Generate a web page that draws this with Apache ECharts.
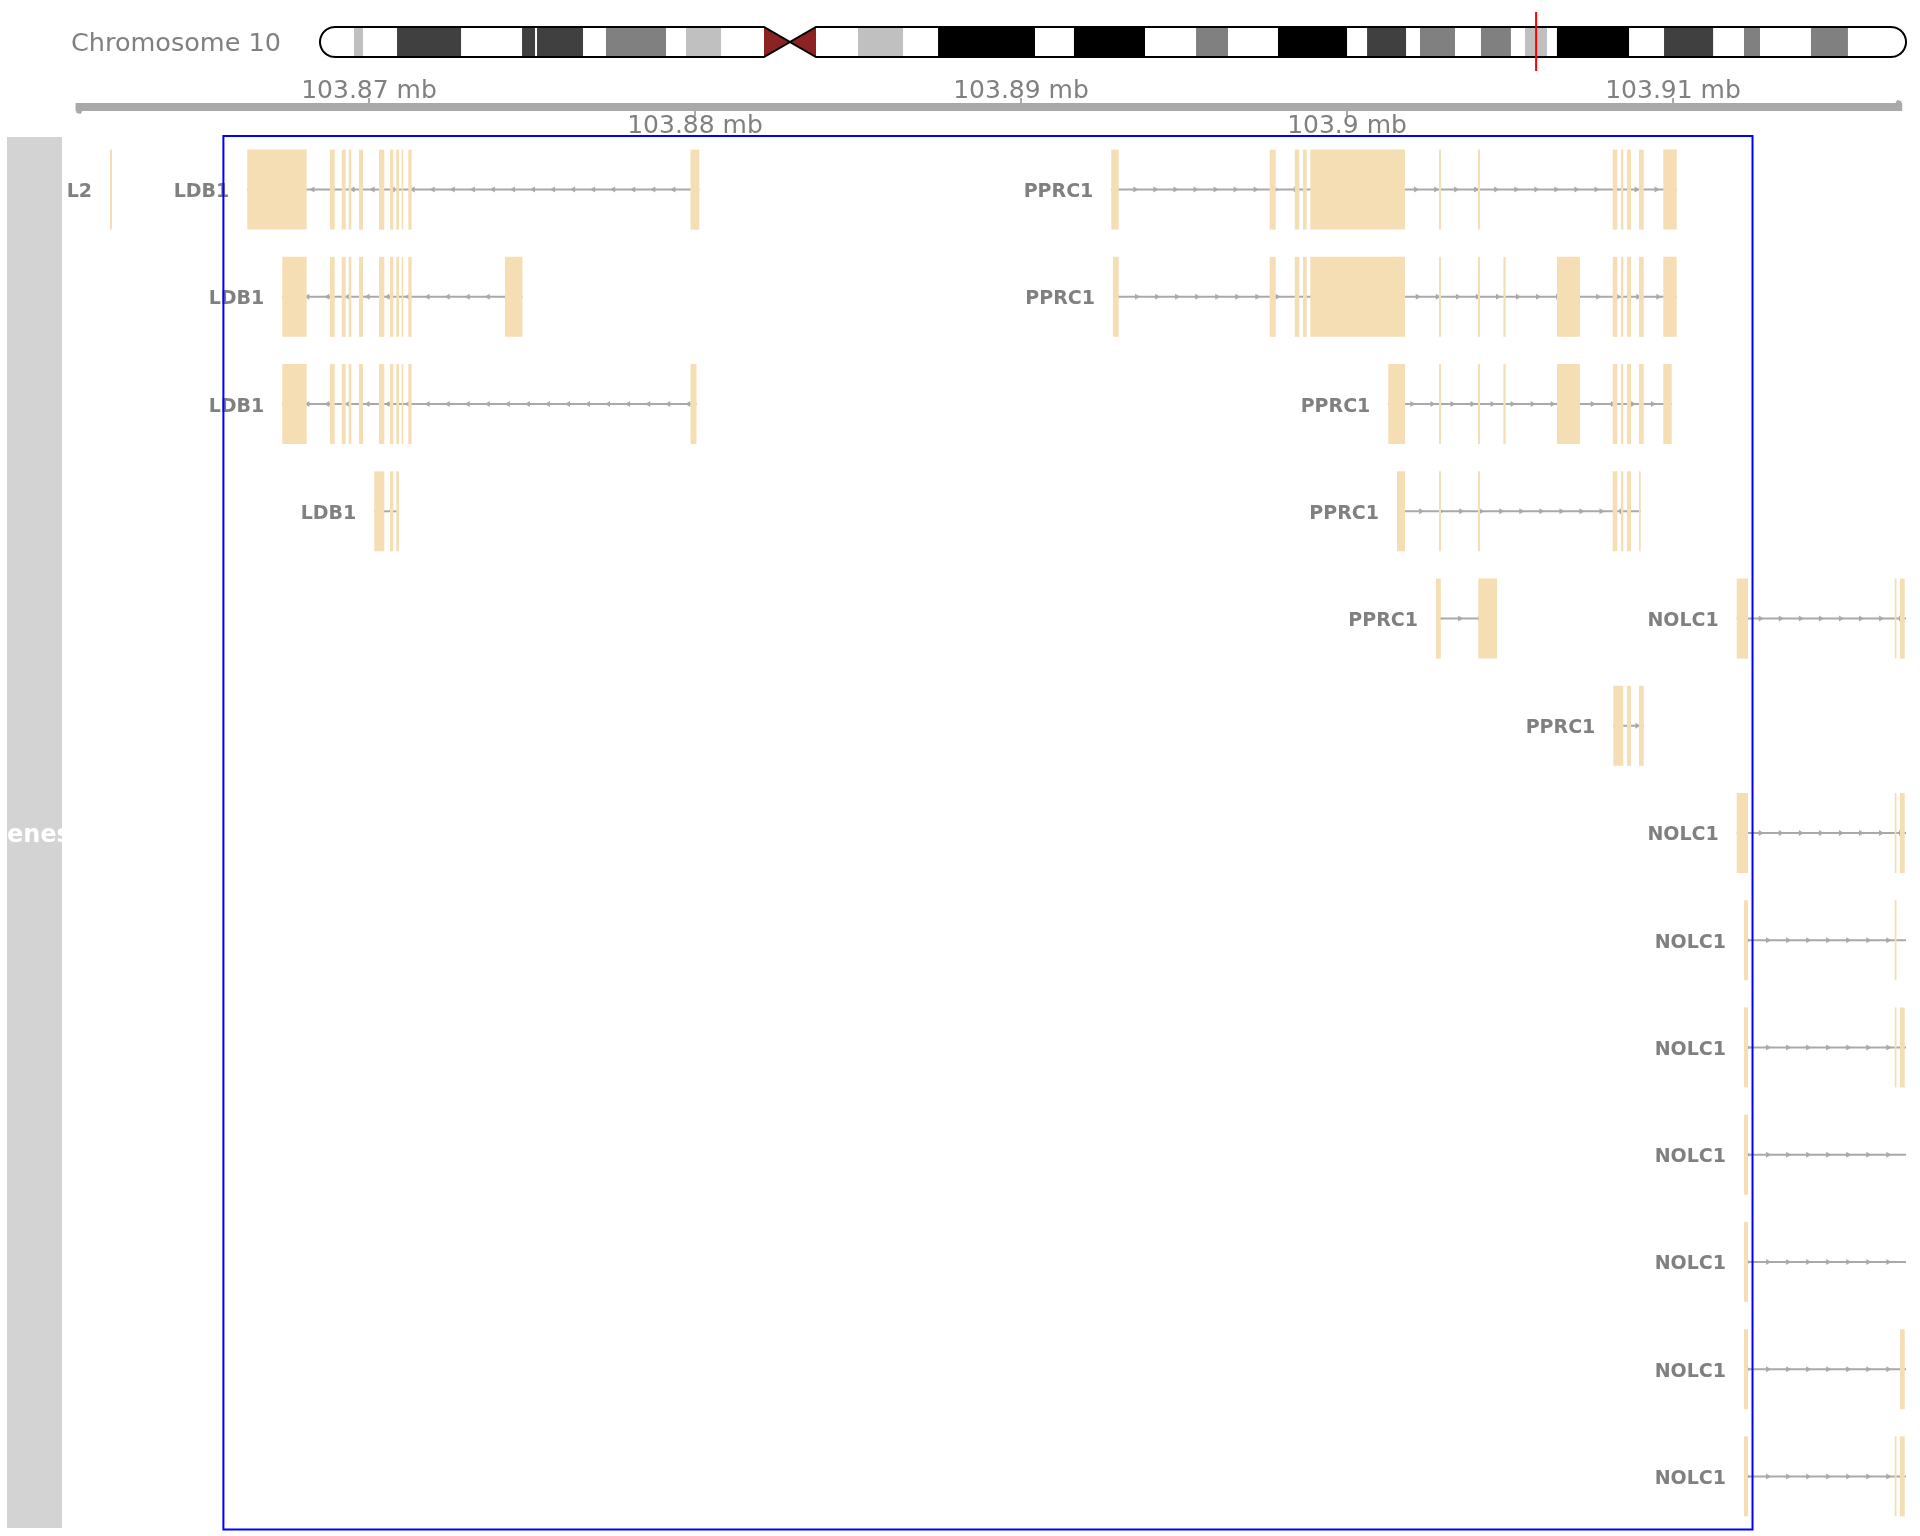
<!DOCTYPE html>
<html><head><meta charset="utf-8">
<script src="https://cdn.jsdelivr.net/npm/echarts@6/dist/echarts.min.js"></script>
<style>html,body{margin:0;padding:0;background:#fff}#c{width:1920px;height:1536px}</style>
</head><body><div id="c"></div>
<script>
// ================= DATA =================
const chromosomeName = 'Chromosome 10';
const chromLengthMb = 135.49;
// ideogram bands (Mb); unlisted stretches are gneg (white)
const bandStartMb = [2.90, 6.58, 17.26, 18.54, 24.43, 31.27, 45.96, 52.80, 64.41, 74.84, 81.84, 89.45, 93.97, 99.18, 102.94, 105.67, 114.82, 121.65, 127.37];
const bandEndMb   = [3.67, 12.05, 18.37, 22.47, 29.56, 34.26, 49.81, 61.08, 70.48, 77.57, 87.74, 92.78, 96.96, 101.74, 104.82, 111.83, 119.01, 123.02, 130.53];
const bandStain   = ['gpos25','gpos75','gpos75','gpos75','gpos50','gpos25','gpos25','gpos100','gpos100','gpos50','gpos100','gpos75','gpos50','gpos50','gpos25','gpos100','gpos75','gpos50','gpos50'];
const centromereMb = [37.93, 40.15, 42.37];
const shownRegionMb = [103.8606, 103.9171];

const viewRangeBp = [103860583, 103917147];
const axisLineBp = [103861000, 103917030];
const tickBp = [103870000, 103880000, 103890000, 103900000, 103910000];
const tickLabels = ['103.87 mb', '103.88 mb', '103.89 mb', '103.9 mb', '103.91 mb'];
const highlightBp = [103865534, 103912439];
const trackTitle = 'Genes';

// shared exon groups (bp)
const ldb1Core = [[103868804,103868948],[103869163,103869285],[103869377,103869457],[103869693,103869816],[103870307,103870469],[103870644,103870745],[103870837,103870920],[103871003,103871052],[103871206,103871310]];
const pprc1Mid = [[103897629,103897813],[103898396,103898537],[103898650,103898764],[103898874,103901779],[103902822,103902884],[103904019,103904080]];
const pprc1Tail = [[103908150,103908292],[103908405,103908476],[103908589,103908712],[103908957,103909101]];

// transcripts
const txLabel  = ['L2','LDB1','LDB1','LDB1','LDB1','PPRC1','PPRC1','PPRC1','PPRC1','PPRC1','PPRC1','NOLC1','NOLC1','NOLC1','NOLC1','NOLC1','NOLC1','NOLC1','NOLC1'];
const txRow    = [1, 1, 2, 3, 4, 1, 2, 3, 4, 5, 6, 5, 7, 8, 9, 10, 11, 12, 13];
const txStrand = ['-','-','-','-','-','+','+','+','+','+','+','+','+','+','+','+','+','+','+'];
const txStart  = [103862055,103866267,103867340,103867340,103870163,103892770,103892822,103901267,103901534,103902730,103908169,103911954,103911954,103912178,103912178,103912178,103912178,103912178,103912178];
const txEnd    = [103862116,103880132,103874709,103880046,103870920,103910114,103910114,103909960,103909009,103904601,103909101,103917600,103917600,103917600,103917600,103917600,103917600,103917600,103917600];
const txExons = [
  [[103862055,103862116]],
  [[103866267,103868089], ...ldb1Core, [103879862,103880132]],
  [[103867340,103868089], ...ldb1Core, [103874172,103874709]],
  [[103867340,103868089], ...ldb1Core, [103879862,103880046]],
  [[103870163,103870469],[103870644,103870745],[103870837,103870920]],
  [[103892770,103892997], ...pprc1Mid, ...pprc1Tail, [103909702,103910114]],
  [[103892822,103892997], ...pprc1Mid, [103904797,103904867],[103906442,103907147], ...pprc1Tail, [103909702,103910114]],
  [[103901267,103901779],[103902822,103902884],[103904019,103904080],[103904797,103904867],[103906442,103907147], ...pprc1Tail, [103909702,103909960]],
  [[103901534,103901779],[103902822,103902884],[103904019,103904080],[103908150,103908292],[103908405,103908476],[103908589,103908712],[103908957,103909009]],
  [[103902730,103902877],[103904028,103904601]],
  [[103908169,103908476],[103908589,103908712],[103908957,103909101]],
  [[103911954,103912301],[103916801,103916856],[103916963,103917108]],
  [[103911954,103912301],[103916801,103916856],[103916963,103917108]],
  [[103912178,103912301],[103916801,103916856]],
  [[103912178,103912301],[103916801,103916856],[103916963,103917108]],
  [[103912178,103912301]],
  [[103912178,103912301]],
  [[103912178,103912301],[103916963,103917108]],
  [[103912178,103912301],[103916801,103916856],[103916963,103917108]]
];

// ================= STYLE =================
const stainColor = {gpos25:'#C0C0C0', gpos50:'#808080', gpos75:'#404040', gpos100:'#000000'};
const exonColor = '#F5DEB3';
const lineColor = '#A9A9A9';
const labelColor = '#808080';
const nRows = 13;

const chart = echarts.init(document.getElementById('c'), null, {renderer:'canvas', width:1920, height:1536});

function ideoBandRender(params, api) {
  const cs = params.coordSys;
  const x0 = api.coord([api.value(0), 0])[0];
  const x1 = api.coord([api.value(1), 0])[0];
  return {type:'rect', shape:{x:x0, y:cs.y, width:x1-x0, height:cs.height},
    style:{fill: stainColor[bandStain[params.dataIndex]]}};
}

function ideoOutlineRender(params, api) {
  const cs = params.coordSys;
  const top = cs.y, bot = cs.y + cs.height, mid = cs.y + cs.height/2, ry = cs.height/2;
  const xa = api.coord([0, 0])[0];
  const xb = api.coord([chromLengthMb, 0])[0];
  const c1 = api.coord([centromereMb[0], 0])[0];
  const cm = api.coord([centromereMb[1], 0])[0];
  const c2 = api.coord([centromereMb[2], 0])[0];
  const rx = 15;
  const left = [[xa+rx, top],[c1, top],[cm, mid],[c1, bot],[xa+rx, bot]];
  for (let k = 1; k < 24; k++) {
    const t = Math.PI/2 + Math.PI*k/24;
    left.push([xa+rx + rx*Math.cos(t), mid + ry*Math.sin(t)]);
  }
  const right = [[c2, top],[xb-rx, top]];
  for (let k = 1; k < 24; k++) {
    const t = -Math.PI/2 + Math.PI*k/24;
    right.push([xb-rx + rx*Math.cos(t), mid + ry*Math.sin(t)]);
  }
  right.push([xb-rx, bot],[c2, bot],[cm, mid]);
  return {type:'group', children:[
    {type:'polygon', shape:{points:[[c1,top],[cm,mid],[c1,bot]]}, style:{fill:'#8B2323'}},
    {type:'polygon', shape:{points:[[c2,top],[cm,mid],[c2,bot]]}, style:{fill:'#8B2323'}},
    {type:'polygon', shape:{points:left}, style:{fill:'none', stroke:'#000', lineWidth:2}},
    {type:'polygon', shape:{points:right}, style:{fill:'none', stroke:'#000', lineWidth:2}}
  ]};
}

function regionMarkRender(params, api) {
  const cs = params.coordSys;
  const a = api.coord([api.value(0), 0])[0];
  const b = api.coord([api.value(1), 0])[0];
  const c = (a+b)/2, w = Math.max(b-a, 2);
  return {type:'rect', shape:{x:c-w/2, y:cs.y-15, width:w, height:cs.height+29}, style:{fill:'#FF0000'}};
}

function axisLineRender(params, api) {
  const yc = api.coord([0, 0.5])[1];
  const a = api.coord([api.value(0), 0.5])[0];
  const b = api.coord([api.value(1), 0.5])[0];
  return {type:'group', children:[
    {type:'rect', shape:{x:a, y:yc-4, width:b-a, height:8}, style:{fill:lineColor}},
    {type:'polygon', shape:{points:[[a, yc],[a+9, yc],[a+5, yc+7],[a+1, yc+6]]}, style:{fill:lineColor}},
    {type:'polygon', shape:{points:[[b, yc],[b-9, yc],[b-5, yc-7],[b-1, yc-6]]}, style:{fill:lineColor}}
  ]};
}

function tickRender(params, api) {
  const i = params.dataIndex;
  const p = api.coord([api.value(0), 0.5]);
  const x = p[0], yc = p[1];
  const up = i % 2 === 0;
  return {type:'group', children:[
    {type:'line', shape:{x1:x, y1: up ? yc-4 : yc+4, x2:x, y2: up ? yc-9 : yc+9}, style:{stroke:lineColor, lineWidth:2}},
    {type:'text', style:{text: tickLabels[i], x:x, y: up ? yc-15.5 : yc+19.5, align:'center', verticalAlign:'middle',
      font:'25px "DejaVu Sans"', fill:labelColor}}
  ]};
}

function geneRender(params, api) {
  const i = params.dataIndex;
  const cs = params.coordSys;
  const xmin = cs.x, xmax = cs.x + cs.width;
  const clamp = v => Math.max(xmin, Math.min(xmax, v));
  const row = txRow[i];
  const ps = api.coord([txStart[i], row]);
  const xs = ps[0], yc = ps[1];
  const xe = api.coord([txEnd[i], row])[0];
  const children = [];
  if (xe - xs > 4) {
    children.push({type:'line', shape:{x1:clamp(xs), y1:yc, x2:clamp(xe), y2:yc}, style:{stroke:lineColor, lineWidth:2}});
    const d = txStrand[i] === '+' ? 1 : -1;
    for (let ax = xs + 4.5; ax < xe - 3; ax += 20.05) {
      if (ax < xmin + 3 || ax > xmax - 3) continue;
      children.push({type:'polygon', shape:{points:[[ax-2.5*d, yc-3],[ax+2.5*d, yc],[ax-2.5*d, yc+3]]}, style:{fill:lineColor}});
    }
  }
  txExons[i].forEach(e => {
    let a = api.coord([e[0], row])[0], b = api.coord([e[1], row])[0];
    if (b < xmin || a > xmax) return;
    a = clamp(a); b = clamp(b);
    children.push({type:'rect', shape:{x:a, y:yc-40, width:Math.max(b-a, 1.5), height:80}, style:{fill:exonColor}});
  });
  children.push({type:'text', style:{text: txLabel[i], x: xs-18, y: yc+2.5, align:'right', verticalAlign:'middle',
    font:'bold 19px "DejaVu Sans"', fill:labelColor}});
  return {type:'group', children};
}

function highlightRender(params, api) {
  const cs = params.coordSys;
  const a = api.coord([api.value(0), 1])[0];
  const b = api.coord([api.value(1), 1])[0];
  return {type:'rect', shape:{x:a, y:cs.y, width:b-a, height:cs.height-0.5}, style:{fill:'none', stroke:'#0000FF', lineWidth:2}};
}

const option = {
  animation: false,
  backgroundColor: '#ffffff',
  grid: [
    {left:320, top:27, width:1586, height:30},
    {left:62, top:77, width:1844, height:60},
    {left:62, top:136, width:1844, height:1394}
  ],
  xAxis: [
    {gridIndex:0, type:'value', min:0, max:chromLengthMb, show:false},
    {gridIndex:1, type:'value', min:viewRangeBp[0], max:viewRangeBp[1], show:false},
    {gridIndex:2, type:'value', min:viewRangeBp[0], max:viewRangeBp[1], show:false}
  ],
  yAxis: [
    {gridIndex:0, type:'value', min:0, max:1, show:false},
    {gridIndex:1, type:'value', min:0, max:1, show:false},
    {gridIndex:2, type:'value', min:0.5, max:nRows+0.5, inverse:true, show:false}
  ],
  graphic: [
    {type:'text', z:100, style:{text:chromosomeName, x:71, y:44, align:'left', verticalAlign:'middle', font:'25.5px "DejaVu Sans"', fill:labelColor}},
    {type:'rect', shape:{x:7, y:137, width:55, height:1391}, z:100, style:{fill:'#D3D3D3'}},
    {type:'text', z:101, style:{text:trackTitle, x:29, y:835.5, align:'center', verticalAlign:'middle', font:'bold 24px "DejaVu Sans"', fill:'#FFFFFF'}},
    {type:'rect', shape:{x:0, y:805, width:7, height:56}, z:102, style:{fill:'#FFFFFF'}},
    {type:'rect', shape:{x:62, y:805, width:20, height:56}, z:102, style:{fill:'#FFFFFF'}}
  ],
  series: [
    {type:'custom', xAxisIndex:0, yAxisIndex:0, renderItem: ideoBandRender, z:2,
      data: bandStartMb.map((s,i)=>[s, bandEndMb[i]]), encode:{x:[0,1]}},
    {type:'custom', xAxisIndex:0, yAxisIndex:0, renderItem: ideoOutlineRender, z:3,
      data: [[0, chromLengthMb]], encode:{x:[0,1]}},
    {type:'custom', xAxisIndex:0, yAxisIndex:0, renderItem: regionMarkRender, z:4,
      data: [shownRegionMb], encode:{x:[0,1]}},
    {type:'custom', xAxisIndex:1, yAxisIndex:1, renderItem: axisLineRender, z:2,
      data: [axisLineBp], encode:{x:[0,1]}},
    {type:'custom', xAxisIndex:1, yAxisIndex:1, renderItem: tickRender, z:3,
      data: tickBp.map(t=>[t]), encode:{x:0}},
    {type:'custom', xAxisIndex:2, yAxisIndex:2, renderItem: geneRender, z:2,
      data: txStart.map((s,i)=>[s, txEnd[i], txRow[i]]), encode:{x:[0,1], y:2}},
    {type:'custom', xAxisIndex:2, yAxisIndex:2, renderItem: highlightRender, z:5,
      data: [highlightBp], encode:{x:[0,1]}}
  ]
};
chart.setOption(option);
</script>
</body></html>
